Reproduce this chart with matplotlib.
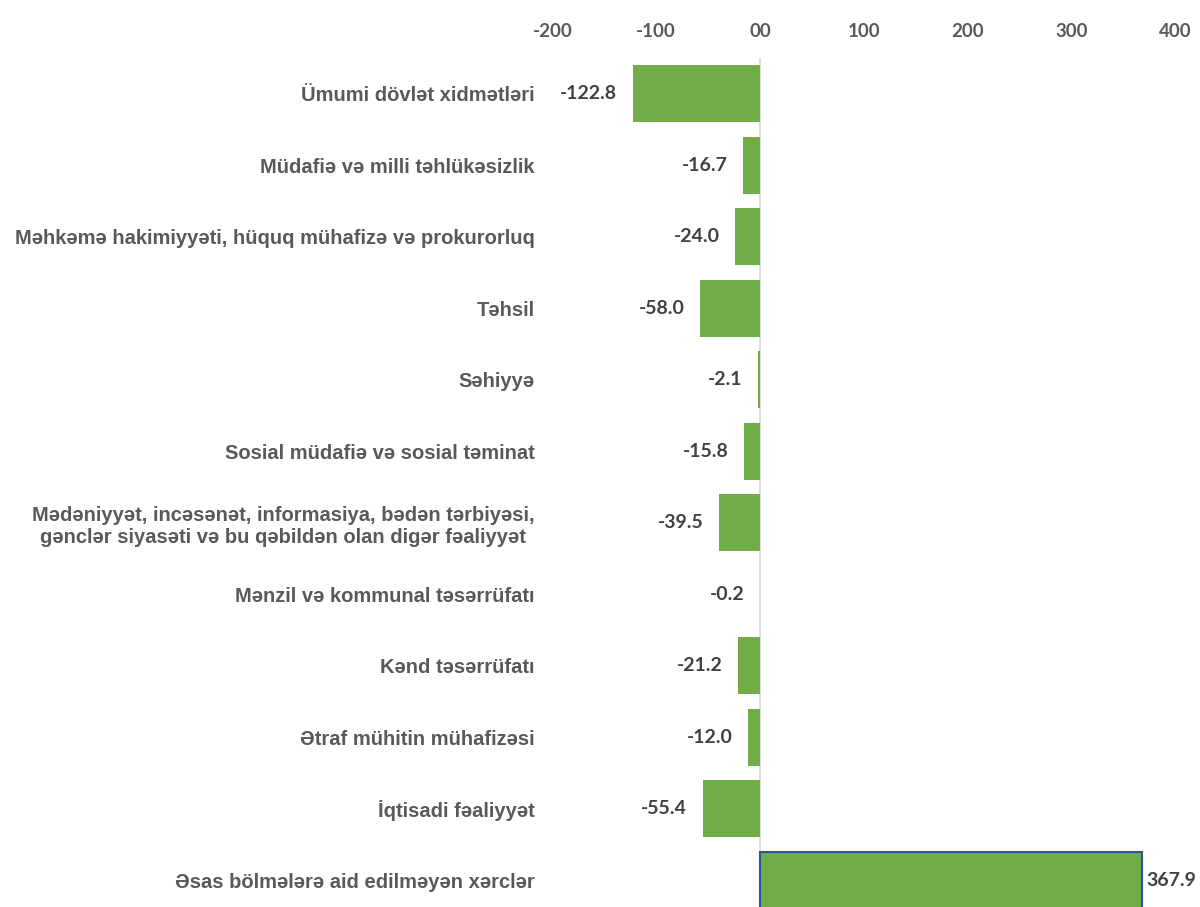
import matplotlib
matplotlib.use('Agg')
import numpy as np
import matplotlib.pyplot as plt

categories = ['Ümumi dövlət xidmətləri',
              'Müdafiə və milli təhlükəsizlik',
              'Məhkəmə hakimiyyəti, hüquq mühafizə və prokurorluq',
              'Təhsil',
              'Səhiyyə',
              'Sosial müdafiə və sosial təminat',
              'Mədəniyyət, incəsənət, informasiya, bədən tərbiyəsi,\ngənclər siyasəti və bu qəbildən olan digər fəaliyyət',
              'Mənzil və kommunal təsərrüfatı',
              'Kənd təsərrüfatı',
              'Ətraf mühitin mühafizəsi',
              'İqtisadi fəaliyyət',
              'Əsas bölmələrə aid edilməyən xərclər']
values = [-122.8, -16.7, -24.0, -58.0, -2.1, -15.8, -39.5, -0.2, -21.2, -12.0, -55.4, 367.9]
xticks = [-200, -100, 0, 100, 200, 300, 400]
xticklabels = ['-200', '-100', '00', '100', '200', '300', '400']

narrow = ['Lato', 'DejaVu Sans']

fig = plt.figure(figsize=(12, 9.07), dpi=100)
ax = fig.add_axes([0.4604, -0.0099, 0.5188, 0.9460])

y = np.arange(len(categories))
bars = ax.barh(y, values, height=0.8, color='#70AD47')
bars[-1].set_edgecolor('#2F5597')
bars[-1].set_linewidth(1.5)

ax.set_ylim(len(categories) - 0.5, -0.5)
ax.set_xlim(-200, 400)
ax.axvline(0, color='#D9D9D9', lw=1.2, zorder=0)

ax.xaxis.tick_top()
ax.set_xticks(xticks)
ax.set_xticklabels(xticklabels, fontsize=13.5, fontweight='bold', color='#595959', family=narrow)
ax.set_yticks(y)
ax.set_yticklabels(categories, fontsize=14.5, fontweight='bold', color='#595959', family='Liberation Sans',
                   multialignment='center', linespacing=1.2)
ax.tick_params(axis='x', length=0, pad=13)
ax.tick_params(axis='y', length=0, pad=13)
for s in ax.spines.values():
    s.set_visible(False)

for yi, v in zip(y, values):
    if v < 0:
        ax.annotate('%.1f' % v, (v, yi), xytext=(-11, 0), textcoords='offset points',
                    ha='right', va='center', fontsize=14, fontweight='bold', color='#404040', family=narrow)
    else:
        ax.annotate('%.1f' % v, (v, yi), xytext=(3, 0), textcoords='offset points',
                    ha='left', va='center', fontsize=14, fontweight='bold', color='#404040', family=narrow)

plt.savefig('out.png', dpi=100)
